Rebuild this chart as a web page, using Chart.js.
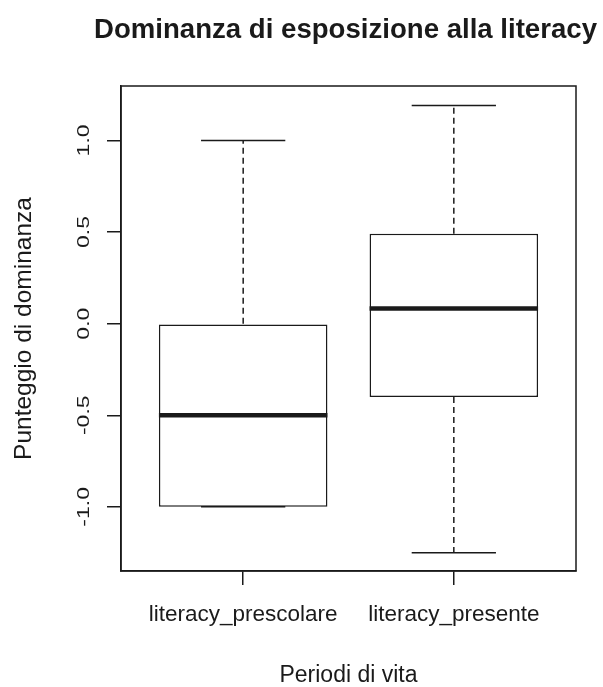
<!DOCTYPE html>
<html>
<head>
<meta charset="utf-8">
<script src="https://cdn.jsdelivr.net/npm/chart.js@4/dist/chart.umd.min.js"></script>
<style>
  html, body { margin: 0; padding: 0; background: #fff; }
  canvas { display: block; }
</style>
</head>
<body>
<canvas id="boxChart" width="603" height="687"></canvas>
<script>
// data
const categories = ['literacy_prescolare', 'literacy_presente'];
const whiskerLow = [-1.0, -1.25];
const quartile1 = [-1.0, -0.40];
const medians = [-0.5, 0.083];
const quartile3 = [0.0, 0.49];
const whiskerHigh = [1.0, 1.19];

const yTicks = [-1.0, -0.5, 0.0, 0.5, 1.0];
const yTickLabels = ['-1.0', '-0.5', '0.0', '0.5', '1.0'];
const yMin = -1.35;
const yMax = 1.297;

const FONT = '"Liberation Sans", Arial, sans-serif';
const INK = '#1a1a1a';

// whiskers, caps, medians, frame and the rotated y labels
const boxplotExtras = {
  id: 'boxplotExtras',
  afterDatasetsDraw(chart) {
    const { ctx, chartArea, scales } = chart;
    const meta = chart.getDatasetMeta(0);
    ctx.save();
    ctx.strokeStyle = INK;
    categories.forEach((c, i) => {
      const bar = meta.data[i];
      const cx = scales.x.getPixelForValue(i + 1);
      const half = bar.width / 2;
      const capHalf = half / 2;
      const yLo = scales.y.getPixelForValue(whiskerLow[i]);
      const yQ1 = scales.y.getPixelForValue(quartile1[i]);
      const yQ3 = scales.y.getPixelForValue(quartile3[i]);
      const yHi = scales.y.getPixelForValue(whiskerHigh[i]);
      const yMed = scales.y.getPixelForValue(medians[i]);

      ctx.lineWidth = 1.5;
      ctx.setLineDash([6, 4]);
      ctx.beginPath();
      ctx.moveTo(cx, yQ3); ctx.lineTo(cx, yHi);
      ctx.moveTo(cx, yQ1); ctx.lineTo(cx, yLo);
      ctx.stroke();

      ctx.setLineDash([]);
      ctx.beginPath();
      ctx.moveTo(cx - capHalf, yHi); ctx.lineTo(cx + capHalf, yHi);
      ctx.moveTo(cx - capHalf, yLo); ctx.lineTo(cx + capHalf, yLo);
      ctx.stroke();

      ctx.lineWidth = 4.5;
      ctx.beginPath();
      ctx.moveTo(cx - half, yMed); ctx.lineTo(cx + half, yMed);
      ctx.stroke();
    });

    // frame around the plot
    ctx.lineWidth = 1.5;
    ctx.strokeRect(chartArea.left, chartArea.top,
      chartArea.right - chartArea.left, chartArea.bottom - chartArea.top);

    // y tick labels, rotated like R draws them
    ctx.fillStyle = INK;
    ctx.font = '23px ' + FONT;
    ctx.textAlign = 'center';
    ctx.textBaseline = 'middle';
    scales.y.ticks.forEach((t, i) => {
      const py = scales.y.getPixelForValue(t.value);
      ctx.save();
      ctx.translate(84.5, py);
      ctx.rotate(-Math.PI / 2);
      ctx.scale(1, 0.72);
      ctx.fillText(yTickLabels[i], 0, 0);
      ctx.restore();
    });

    // main title
    ctx.font = 'bold 27.6px ' + FONT;
    ctx.textBaseline = 'alphabetic';
    ctx.fillText('Dominanza di esposizione alla literacy',
      (chartArea.left + chartArea.right) / 2 - 3, 37.5);
    ctx.restore();
  }
};

new Chart(document.getElementById('boxChart'), {
  type: 'bar',
  data: {
    datasets: [{
      data: categories.map((c, i) => ({ x: i + 1, y: [quartile1[i], quartile3[i]] })),
      backgroundColor: '#ffffff',
      borderColor: INK,
      borderWidth: 1.5,
      borderSkipped: false,
      barPercentage: 0.8,
      categoryPercentage: 1
    }]
  },
  options: {
    responsive: false,
    animation: false,
    layout: { padding: { top: 86, right: 27, left: 0, bottom: 0 } },
    plugins: {
      legend: { display: false },
      tooltip: { enabled: false }
    },
    scales: {
      x: {
        type: 'linear',
        offset: false,
        bounds: 'data',
        min: 0.42,
        max: 2.58,
        afterBuildTicks: (scale) => {
          scale.ticks = categories.map((c, i) => ({ value: i + 1 }));
        },
        afterFit: (scale) => { scale.height = 116; },
        ticks: {
          callback: (v, i) => categories[i],
          font: { family: FONT, size: 22.5 },
          color: INK,
          padding: 16.5,
          maxRotation: 0,
          autoSkip: false
        },
        grid: { offset: false, drawOnChartArea: false, tickLength: 14, color: INK, lineWidth: 1.5 },
        border: { display: true, color: INK, width: 1.5 },
        title: {
          display: true,
          text: 'Periodi di vita',
          font: { family: FONT, size: 23, lineHeight: 1 },
          color: INK,
          padding: 0
        }
      },
      y: {
        bounds: 'data',
        min: yMin,
        max: yMax,
        afterBuildTicks: (scale) => {
          scale.ticks = yTicks.map(v => ({ value: v }));
        },
        afterFit: (scale) => { scale.width = 121; },
        ticks: { display: false },
        grid: { drawOnChartArea: false, tickLength: 14, color: INK, lineWidth: 1.5 },
        border: { display: true, color: INK, width: 1.5 },
        title: {
          display: true,
          text: 'Punteggio di dominanza',
          font: { family: FONT, size: 24.5, lineHeight: 1.2 },
          color: INK,
          padding: { top: 10, bottom: 0 }
        }
      }
    }
  },
  plugins: [boxplotExtras]
});
</script>
</body>
</html>
